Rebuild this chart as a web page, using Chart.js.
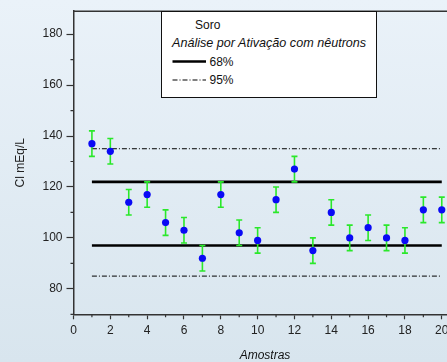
<!DOCTYPE html>
<html><head><meta charset="utf-8">
<script src="https://cdn.jsdelivr.net/npm/chart.js@4"></script>
<style>
html,body{margin:0;padding:0;width:447px;height:362px;overflow:hidden;background:linear-gradient(to bottom,#eaf2f9,#d8e5ee);font-family:"Liberation Sans",Arial,sans-serif;}
#wrap{position:absolute;left:0;top:0;width:470px;height:362px;}
#legend{position:absolute;left:161px;top:11px;width:214px;height:85px;background:#fff;border:1.5px solid #111;color:#111;font-size:12px;}
#legend span{position:absolute;line-height:14px;white-space:nowrap;}
#legend svg{position:absolute;left:0;top:0;}
#xtitle{position:absolute;left:215px;width:100px;text-align:center;top:348px;line-height:14px;font-size:12px;font-style:italic;color:#111;}
</style></head>
<body>
<div id="wrap"><canvas id="c" width="470" height="362"></canvas></div>
<div id="xtitle">Amostras</div>
<div id="legend">
  <span style="left:33px;top:6px;">Soro</span>
  <span style="left:10px;top:24px;font-style:italic;font-size:12.6px;">Análise por Ativação com nêutrons</span>
  <span style="left:47.5px;top:42.5px;">68%</span>
  <span style="left:47.5px;top:61px;">95%</span>
  <svg width="214" height="85">
    <line x1="10.5" y1="49.5" x2="44" y2="49.5" stroke="#000" stroke-width="2.6"/>
    <line x1="10.5" y1="68" x2="44" y2="68" stroke="#000" stroke-width="1" stroke-dasharray="5,2,1,2"/>
  </svg>
</div>
<script>
const samples = [1,2,3,4,5,6,7,8,9,10,11,12,13,14,15,16,17,18,19,20];
const chloride = [137,134,114,117,106,103,92,117,102,99,115,127,95,110,100,104,100,99,111,111];
const uncertainty = [5,5,5,5,5,5,5,5,5,5,5,5,5,5,5,5,5,5,5,5];
const limits68 = [97,122];
const limits95 = [85,135];
const xMinorTicks = [1,3,5,7,9,11,13,15,17,19];
const yMinorTicks = [70,90,110,130,150,170];

const pointData = samples.map((s,i)=>({x:s,y:chloride[i]}));
const errData = [];
samples.forEach((s,i)=>{
  errData.push({x:s,y:chloride[i]-uncertainty[i]});
  errData.push({x:s,y:chloride[i]+uncertainty[i]});
  errData.push({x:s,y:null});
});
const first = samples[0], last = samples[samples.length-1];
const hline = v => [{x:first,y:v},{x:last,y:v}];

const axisColor = '#333';
const frameAndMinor = {
  id:'frameAndMinor',
  afterDraw(chart){
    const ctx = chart.ctx, a = chart.chartArea;
    const xs = chart.scales.x, ys = chart.scales.y;
    ctx.save();
    ctx.strokeStyle = axisColor;
    ctx.lineWidth = 1.5;
    ctx.beginPath();
    ctx.moveTo(a.left, a.top); ctx.lineTo(a.right, a.top);
    ctx.lineTo(a.right, a.bottom);
    ctx.stroke();
    ctx.lineWidth = 1.2;
    ctx.beginPath();
    xMinorTicks.forEach(v=>{const p = xs.getPixelForValue(v); ctx.moveTo(p, a.bottom); ctx.lineTo(p, a.bottom+3);});
    yMinorTicks.forEach(v=>{const p = ys.getPixelForValue(v); ctx.moveTo(a.left, p); ctx.lineTo(a.left-3, p);});
    ctx.stroke();
    ctx.restore();
  }
};

new Chart(document.getElementById('c'), {
  type:'scatter',
  data:{datasets:[
    {label:'Cl', data:pointData, order:0, pointRadius:3.6, pointHoverRadius:3.6, backgroundColor:'#0a0af5', borderWidth:0, pointBorderWidth:0},
    {label:'err', data:errData, order:1, showLine:true, spanGaps:false, borderColor:'#2ae82a', borderWidth:1.6, pointStyle:'line', pointRadius:3, pointBorderColor:'#2ae82a', pointBorderWidth:1.6, pointBackgroundColor:'#2ae82a'},
    {label:'68a', data:hline(limits68[0]), order:2, showLine:true, borderColor:'#000', borderWidth:2.6, pointRadius:0},
    {label:'68b', data:hline(limits68[1]), order:2, showLine:true, borderColor:'#000', borderWidth:2.6, pointRadius:0},
    {label:'95a', data:hline(limits95[0]), order:3, showLine:true, borderColor:'#000', borderWidth:1, borderDash:[5,2,1,2], pointRadius:0},
    {label:'95b', data:hline(limits95[1]), order:3, showLine:true, borderColor:'#000', borderWidth:1, borderDash:[5,2,1,2], pointRadius:0}
  ]},
  options:{
    responsive:false, animation:false, devicePixelRatio:1,
    layout:{padding:{top:5,right:13.5,left:0,bottom:0}},
    plugins:{legend:{display:false}, tooltip:{enabled:false}},
    scales:{
      x:{type:'linear', min:0, max:20.8,
        afterFit(s){s.height = 47.7;},
        border:{display:true,color:axisColor,width:1.5},
        grid:{drawOnChartArea:false, drawTicks:true, tickLength:5, tickColor:axisColor, tickWidth:1.2},
        ticks:{stepSize:2, includeBounds:false, padding:4, color:'#222', font:{family:'"Liberation Sans", Arial', size:12}, maxRotation:0},
        title:{display:false}
      },
      y:{type:'linear', min:70, max:189,
        afterFit(s){s.width = 73.5;},
        border:{display:true,color:axisColor,width:1.5},
        grid:{drawOnChartArea:false, drawTicks:true, tickLength:7, tickColor:axisColor, tickWidth:1.2},
        ticks:{stepSize:20, includeBounds:false, padding:4, color:'#222', font:{family:'"Liberation Sans", Arial', size:12}},
        title:{display:true, text:'Cl mEq/L', color:'#222', padding:{top:13,bottom:0}, font:{family:'"Liberation Sans", Arial', size:12}}
      }
    }
  },
  plugins:[frameAndMinor]
});
</script>
</body></html>
